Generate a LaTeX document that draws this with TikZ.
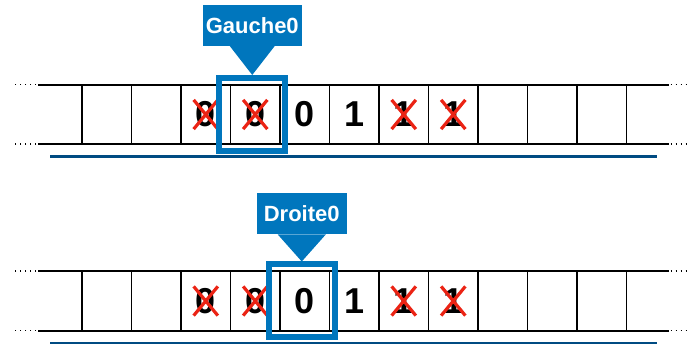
\documentclass[tikz,border=0pt]{standalone}
\usepackage{fontspec}
\setmainfont{Liberation Sans}
\usepackage{tikz}
\usetikzlibrary{positioning,shapes.misc,calc}
\definecolor{CalloutBlue}{RGB}{0,118,189}
\definecolor{RuleBlue}{RGB}{0,75,130}
\definecolor{CrossRed}{RGB}{235,35,20}

\begin{document}
\begin{tikzpicture}[x=1pt, y=-1pt,
    cell/.style={rectangle, draw=black, line width=1.6pt,
                 minimum width=49.5pt, minimum height=59.5pt,
                 inner sep=0pt, outer sep=0pt,
                 font=\fontsize{36}{36}\selectfont\bfseries},
    tape/.style={line width=1.6pt},
    dots/.style={line width=1.5pt, dash pattern=on 1.5pt off 3.5pt},
    strike/.style={cross out, draw=CrossRed, line width=3.2pt,
                   minimum width=21pt, minimum height=26pt, inner sep=0pt},
    hilite/.style={rectangle, draw=CalloutBlue, line width=6pt,
                   minimum width=66pt, minimum height=73pt, inner sep=0pt},
    callout/.style={rectangle, fill=CalloutBlue, text=white,
                    minimum height=41pt, inner sep=0pt,
                    font=\fontsize{22}{22}\selectfont\bfseries}
]
    \useasboundingbox (0,0) rectangle (688,344);

    % first tape: Gauche0
    \node[cell] (c1) at (106.75,114.5) {};
    \node[cell, right=0pt of c1] (c2) {};
    \node[cell, right=0pt of c2] (c3) {0};
    \node[cell, right=0pt of c3] (c4) {0};
    \node[cell, right=0pt of c4] (c5) {0};
    \node[cell, right=0pt of c5] (c6) {1};
    \node[cell, right=0pt of c6] (c7) {1};
    \node[cell, right=0pt of c7] (c8) {1};
    \node[cell, right=0pt of c8] (c9) {};
    \node[cell, right=0pt of c9] (c10) {};
    \node[cell, right=0pt of c10] (c11) {};

    \draw[tape] (c1.north west) -- ++(-44,0);
    \draw[tape] (c1.south west) -- ++(-44,0);
    \draw[tape] (c11.north east) -- ++(42,0);
    \draw[tape] (c11.south east) -- ++(42,0);
    \draw[dots] ($(c1.north west)+(-46,0)$) -- ++(-23,0);
    \draw[dots] ($(c1.south west)+(-46,0)$) -- ++(-23,0);
    \draw[dots] ($(c11.north east)+(44,0)$) -- ++(17,0);
    \draw[dots] ($(c11.south east)+(44,0)$) -- ++(17,0);

    \node[strike] (xa3) at (c3) {};
    \node[strike] (xa4) at (c4) {};
    \node[strike] (xa7) at (c7) {};
    \node[strike] (xa8) at (c8) {};

    \node[hilite] (selA) at ($(c4)+(-3,0)$) {};
    \node[callout, minimum width=99pt, above=29pt of selA] (gauche) {Gauche0};
    \fill[CalloutBlue] ($(gauche.south)+(-22.5,0)$) -- ($(gauche.south)+(22.5,0)$)
        -- (selA.north) -- cycle;

    \draw[RuleBlue, line width=3pt] (50,157) -- (657,157);

    % second tape: Droite0
    \node[cell] (d1) at (106.75,301) {};
    \node[cell, right=0pt of d1] (d2) {};
    \node[cell, right=0pt of d2] (d3) {0};
    \node[cell, right=0pt of d3] (d4) {0};
    \node[cell, right=0pt of d4] (d5) {0};
    \node[cell, right=0pt of d5] (d6) {1};
    \node[cell, right=0pt of d6] (d7) {1};
    \node[cell, right=0pt of d7] (d8) {1};
    \node[cell, right=0pt of d8] (d9) {};
    \node[cell, right=0pt of d9] (d10) {};
    \node[cell, right=0pt of d10] (d11) {};

    \draw[tape] (d1.north west) -- ++(-44,0);
    \draw[tape] (d1.south west) -- ++(-44,0);
    \draw[tape] (d11.north east) -- ++(42,0);
    \draw[tape] (d11.south east) -- ++(42,0);
    \draw[dots] ($(d1.north west)+(-46,0)$) -- ++(-23,0);
    \draw[dots] ($(d1.south west)+(-46,0)$) -- ++(-23,0);
    \draw[dots] ($(d11.north east)+(44,0)$) -- ++(17,0);
    \draw[dots] ($(d11.south east)+(44,0)$) -- ++(17,0);

    \node[strike] (xb3) at (d3) {};
    \node[strike] (xb4) at (d4) {};
    \node[strike] (xb7) at (d7) {};
    \node[strike] (xb8) at (d8) {};

    \node[hilite] (selB) at ($(d5)+(-3,0)$) {};
    \node[callout, minimum width=90pt, above=27pt of selB] (droite) {Droite0};
    \fill[CalloutBlue] ($(droite.south)+(-24,0)$) -- ($(droite.south)+(24,0)$)
        -- (selB.north) -- cycle;

    \draw[RuleBlue, line width=1.5pt] (50,343) -- (657,343);
\end{tikzpicture}
\end{document}
